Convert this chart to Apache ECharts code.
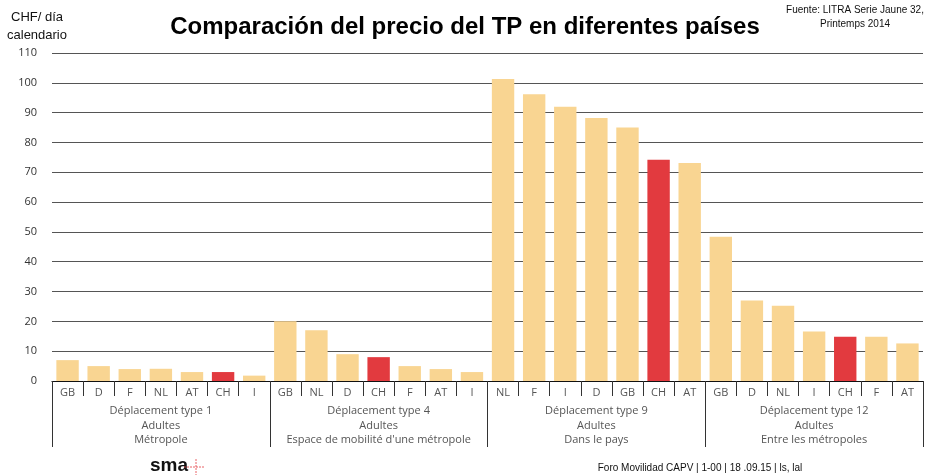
<!DOCTYPE html>
<html>
<head>
<meta charset="utf-8">
<script src="https://cdn.jsdelivr.net/npm/echarts@6/dist/echarts.min.js"></script>
<style>
  html, body { margin: 0; padding: 0; background: #fff; }
  #main { width: 933px; height: 476px; }
</style>
</head>
<body>
<div id="main"></div>
<script>
// country codes, in the order they appear under each group
const countries = [
  'GB', 'D', 'F', 'NL', 'AT', 'CH', 'I',
  'GB', 'NL', 'D', 'CH', 'F', 'AT', 'I',
  'NL', 'F', 'I', 'D', 'GB', 'CH', 'AT',
  'GB', 'D', 'NL', 'I', 'CH', 'F', 'AT'
]
// CHF per calendar day
const prices = [
  7, 5, 4, 4.1, 3, 3, 1.8,
  20, 17, 9, 8, 5, 4, 3,
  101.3, 96.2, 92, 88.2, 85, 74.2, 73.1,
  48.4, 27, 25.2, 16.6, 14.8, 14.8, 12.6
]
const groups = [
  'Déplacement type 1\nAdultes\nMétropole',
  'Déplacement type 4\nAdultes\nEspace de mobilité d\'une métropole',
  'Déplacement type 9\nAdultes\nDans le pays',
  'Déplacement type 12\nAdultes\nEntre les métropoles'
]

const orange = '#F9D592'
const red = '#E23A3F'
const labelFont = '"Open Sans", "Noto Sans", sans-serif'

const chart = echarts.init(document.getElementById('main'), null, { renderer: 'canvas' })

chart.setOption({
  animation: false,
  grid: { left: 52, right: 10, top: 53, bottom: 95, containLabel: false },
  xAxis: [
    {
      type: 'category',
      data: countries,
      axisLine: { lineStyle: { color: '#111', width: 1.2 } },
      axisTick: { show: true, interval: 0, length: 15, lineStyle: { color: '#333' } },
      axisLabel: { interval: 0, margin: 6, fontSize: 11, color: '#555', fontFamily: labelFont }
    },
    {
      type: 'category',
      position: 'bottom',
      data: groups,
      axisLine: { show: false },
      axisTick: { show: true, interval: 0, length: 66, lineStyle: { color: '#333' } },
      axisLabel: {
        interval: 0, margin: 23, fontSize: 11, lineHeight: 14.5,
        color: '#555', fontFamily: labelFont, align: 'center'
      },
      splitLine: { show: false }
    }
  ],
  yAxis: {
    type: 'value',
    min: 0,
    max: 110,
    interval: 10,
    axisLine: { show: false },
    axisTick: { show: false },
    axisLabel: { margin: 15, fontSize: 11, color: '#333', fontFamily: labelFont },
    splitLine: { lineStyle: { color: '#555', width: 1.2 } }
  },
  series: [{
    type: 'bar',
    xAxisIndex: 0,
    data: prices,
    barWidth: '72%',
    itemStyle: {
      color: function (p) { return countries[p.dataIndex] === 'CH' ? red : orange }
    }
  }],
  graphic: [
    {
      type: 'text', x: 465, y: 15,
      style: {
        text: 'Comparación del precio del TP en diferentes países', align: 'center',
        font: 'bold 24px "Liberation Sans", Arial, sans-serif', fill: '#000'
      }
    },
    {
      type: 'text', x: 37, y: 8,
      style: {
        text: 'CHF/ día\ncalendario', align: 'center', lineHeight: 18,
        font: '13px "Liberation Sans", Arial, sans-serif', fill: '#111'
      }
    },
    {
      type: 'text', x: 855, y: 3,
      style: {
        text: 'Fuente: LITRA Serie Jaune 32,\nPrintemps 2014', align: 'center', lineHeight: 14,
        font: '10px "Liberation Sans", Arial, sans-serif', fill: '#111'
      }
    },
    {
      type: 'text', x: 700, y: 463,
      style: {
        text: 'Foro Movilidad CAPV | 1-00 | 18 .09.15 | ls, lal', align: 'center',
        font: '10px "Liberation Sans", Arial, sans-serif', fill: '#111'
      }
    },
    {
      type: 'text', x: 150, y: 456,
      style: { text: 'sma', font: 'bold 19px "Liberation Sans", Arial, sans-serif', fill: '#111' }
    },
    {
      type: 'line', shape: { x1: 184, y1: 467, x2: 204, y2: 467 },
      style: { stroke: red, lineWidth: 0.8, lineDash: [2, 1] }
    },
    {
      type: 'line', shape: { x1: 196, y1: 459, x2: 196, y2: 475 },
      style: { stroke: red, lineWidth: 0.8, lineDash: [2, 1] }
    }
  ]
})
</script>
</body>
</html>
